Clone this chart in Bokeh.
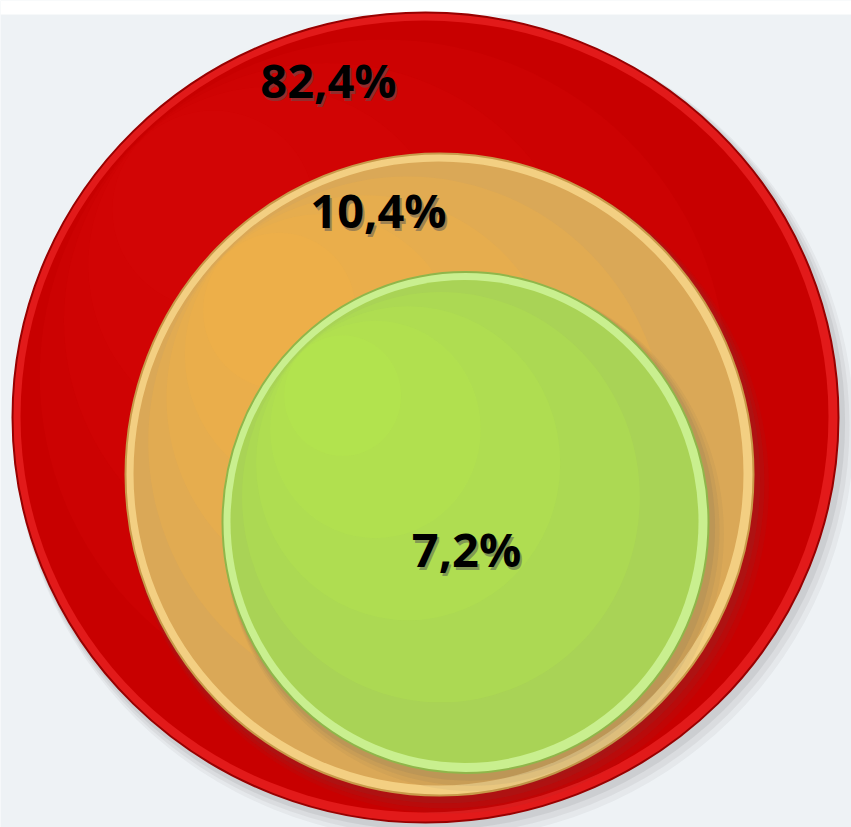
from bokeh.plotting import figure
from bokeh.models import Range1d
from bokeh.core.properties import value
from bokeh.embed import file_html
from bokeh.resources import INLINE

# data
categories = ["Red", "Orange", "Green"]
shares = [82.4, 10.4, 7.2]
labels = ["82,4%", "10,4%", "7,2%"]

# layout (pixel-like data coordinates)
cx = [425, 439, 465]
cy = [417, 474, 522]
w = [826, 628, 486]
h = [810, 642, 501]
label_x = [328, 378, 466]
label_y = [79, 209, 548]

rim_col = ["#e21a1a", "#f3cf82", "#c9ef8f"]
edge_col = ["#980000", "#c89a4a", "#8fb64a"]
body_col = ["#c80000", "#daa857", "#a9d356"]
hi_col = ["#d80808", "#f6b445", "#b8ec4c"]

p = figure(width=851, height=827, output_backend="svg", toolbar_location=None,
           x_range=Range1d(0, 851), y_range=Range1d(827, 0),
           min_border=0, border_fill_color="#eef2f5", background_fill_color="#eef2f5",
           outline_line_color=None)
p.axis.visible = False
p.grid.visible = False

p.quad(left=[0], right=[851], top=[0], bottom=[14], fill_color="white", line_color=None)

for i in range(3):
    # shadow
    for k, a in [(14, 0.06), (10, 0.08), (6, 0.10)]:
        p.ellipse(x=cx[i] + k * 0.6, y=cy[i] + k * 0.8, width=w[i] + k, height=h[i] + k,
                  fill_color="#555555", fill_alpha=a, line_color=None)
    # rim
    p.ellipse(x=cx[i], y=cy[i], width=w[i], height=h[i], fill_color=rim_col[i],
              line_color=edge_col[i], line_width=2)
    # body
    p.ellipse(x=cx[i] - 1, y=cy[i] - 1, width=w[i] - 18, height=h[i] - 18,
              fill_color=body_col[i], line_color=None)
    # highlight toward top-left
    for s, a in [(0.85, 0.25), (0.65, 0.25), (0.45, 0.25), (0.25, 0.25)]:
        ww = (w[i] - 18) * s
        hh = (h[i] - 18) * s
        ox = cx[i] - ((w[i] - 18) - ww) * 0.35
        oy = cy[i] - ((h[i] - 18) - hh) * 0.35
        p.ellipse(x=ox, y=oy, width=ww, height=hh, fill_color=hi_col[i],
                  fill_alpha=a, line_color=None)

# labels with shadow
p.text(x=[x + 2 for x in label_x], y=[y + 3 for y in label_y], text=labels,
       text_font=value("Open Sans"), text_font_style="bold", text_font_size="47px",
       text_align="center", text_baseline="middle", text_color="#555555", text_alpha=0.5)
p.text(x=label_x, y=label_y, text=labels,
       text_font=value("Open Sans"), text_font_style="bold", text_font_size="47px",
       text_align="center", text_baseline="middle", text_color="#000000")

open("out.html", "w").write(file_html(p, INLINE))
